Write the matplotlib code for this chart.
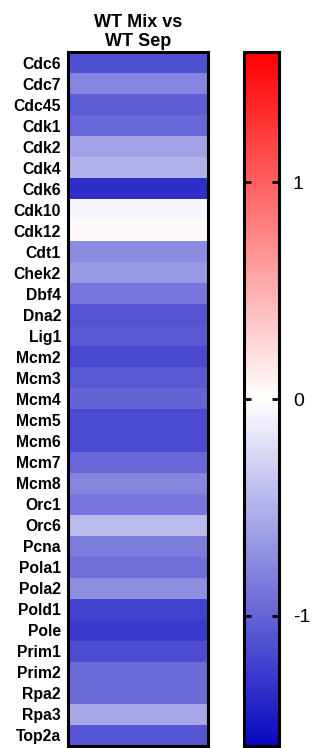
import numpy as np
import matplotlib
matplotlib.use("Agg")
import matplotlib.pyplot as plt
from matplotlib.colors import LinearSegmentedColormap

plt.rcParams['font.family'] = ['Liberation Sans', 'DejaVu Sans']

genes = ['Cdc6', 'Cdc7', 'Cdc45', 'Cdk1', 'Cdk2', 'Cdk4', 'Cdk6', 'Cdk10', 'Cdk12',
         'Cdt1', 'Chek2', 'Dbf4', 'Dna2', 'Lig1', 'Mcm2', 'Mcm3', 'Mcm4', 'Mcm5',
         'Mcm6', 'Mcm7', 'Mcm8', 'Orc1', 'Orc6', 'Pcna', 'Pola1', 'Pola2', 'Pold1',
         'Pole', 'Prim1', 'Prim2', 'Rpa2', 'Rpa3', 'Top2a']
# log fold change, WT Mix vs WT Sep
values = [-1.13, -0.78, -1.04, -0.97, -0.60, -0.50, -1.35, -0.06, 0.04,
          -0.75, -0.66, -0.88, -1.10, -1.07, -1.17, -1.07, -1.00, -1.16,
          -1.16, -0.97, -0.78, -0.88, -0.44, -0.85, -0.92, -0.72, -1.22,
          -1.27, -1.15, -0.95, -0.95, -0.56, -1.10]
column = 'WT Mix vs\nWT Sep'
cbar_ticks = [-1, 0, 1]

cmap = LinearSegmentedColormap.from_list('bwr_prism', ['#0808C0', '#FFFFFF', '#FF0000'])

fig = plt.figure(figsize=(3.23, 7.48), dpi=100)
ax = fig.add_axes([68 / 323, 2 / 748, 140 / 323, 694 / 748])
data = np.array(values).reshape(-1, 1)
im = ax.imshow(data, cmap=cmap, vmin=-1.6, vmax=1.6, aspect='auto',
               interpolation='nearest')
ax.set_yticks(range(len(genes)))
ax.set_yticklabels(genes, fontweight='bold', fontsize=11.3)
ax.tick_params(axis='y', length=0, pad=5)
ax.set_xticks([])
ax.set_title(column, fontweight='bold', fontsize=13, pad=4, linespacing=1.2)
for s in ax.spines.values():
    s.set_linewidth(2.2)

cax = fig.add_axes([244 / 323, 2 / 748, 35 / 323, 694 / 748])
cb = fig.colorbar(im, cax=cax, ticks=cbar_ticks)
cb.outline.set_linewidth(2.2)
cax.tick_params(axis='y', direction='in', length=5, width=2, left=True, right=True,
                labelsize=14, pad=10)
cax.set_yticklabels(['-1', '0', '1'])

fig.savefig('out.png', dpi=100)
